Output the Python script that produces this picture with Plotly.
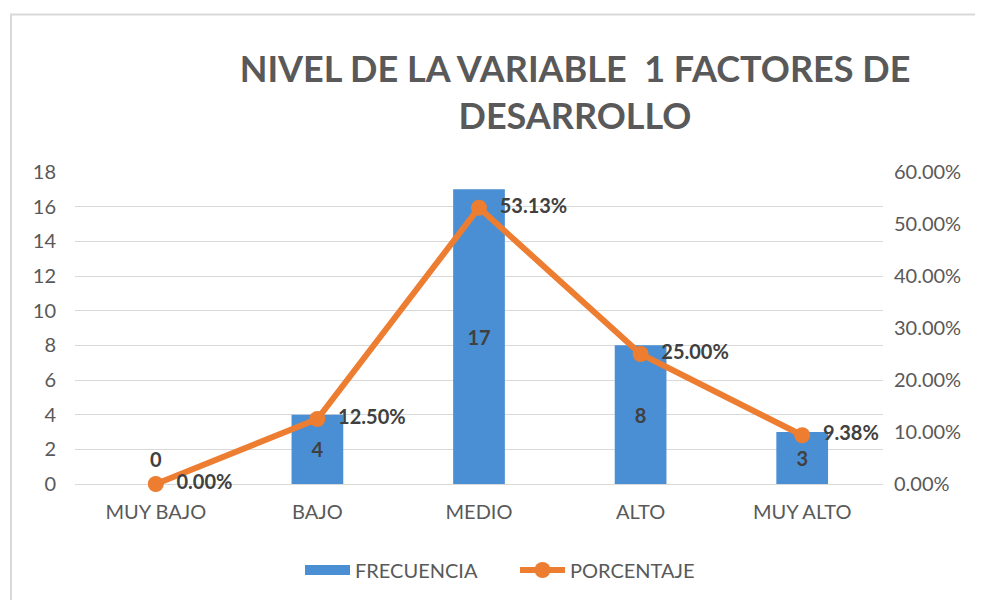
import plotly.graph_objects as go

categories = ["MUY BAJO", "BAJO", "MEDIO", "ALTO", "MUY ALTO"]
frecuencia = [0, 4, 17, 8, 3]
porcentaje = [0.0, 0.125, 0.53125, 0.25, 0.09375]
pct_labels = ["0.00%", "12.50%", "53.13%", "25.00%", "9.38%"]
left_ticks = list(range(0, 19, 2))
right_ticks = [0.0, 0.1, 0.2, 0.3, 0.4, 0.5, 0.6]

FONT = "Lato"
GRAY = "#595959"
DARK = "#404040"
BLUE = "#4A8FD4"
ORANGE = "#ED7D31"

# page body has an 8px margin; compensate so the figure sits at the window origin
OFF = 8
W, H = 983 - OFF, 600 - OFF
l, r, t, b = 75 - OFF, 100, 172 - OFF, 115
pw, ph = W - l - r, H - t - b


def px2paper_x(px):
    return (px - OFF - l) / pw


def px2paper_y(py):
    return (H - b - (py - OFF)) / ph


fig = go.Figure()
fig.add_trace(go.Bar(
    x=categories, y=frecuencia, name="FRECUENCIA",
    marker=dict(color=BLUE, line=dict(width=0)),
    width=0.32,
    text=["" if v == 0 else str(v) for v in frecuencia],
    textposition="inside",
    insidetextanchor="middle",
    textfont=dict(family=FONT, size=20, color=DARK, weight="bold"),
    showlegend=False,
    yaxis="y",
))
# legend entry for the bars (wide swatch like the reference)
fig.add_trace(go.Scatter(
    x=[None], y=[None], name="FRECUENCIA", mode="lines",
    line=dict(color=BLUE, width=11),
))
fig.add_trace(go.Scatter(
    x=categories, y=porcentaje, name="PORCENTAJE",
    mode="lines+markers+text",
    line=dict(color=ORANGE, width=6),
    marker=dict(color=ORANGE, size=16),
    text=["\u00a0\u00a0" + s for s in pct_labels], textposition="middle right",
    textfont=dict(family=FONT, size=20, color=DARK, weight="bold"),
    cliponaxis=False,
    yaxis="y2",
))

annotations = []
for c, v in zip(categories, frecuencia):
    if v == 0:
        annotations.append(dict(
            x=c, y=v, xref="x", yref="y", text=str(v), showarrow=False,
            yshift=25, font=dict(family=FONT, size=20, color=DARK, weight="bold"),
        ))

fig.update_layout(
    width=W, height=H,
    margin=dict(l=l, r=r, t=t, b=b),
    paper_bgcolor="white", plot_bgcolor="white",
    font=dict(family=FONT, size=20, color=GRAY),
    title=dict(
        text="NIVEL DE LA VARIABLE  1 FACTORES DE<br>DESARROLLO",
        x=(575 - OFF) / W, xanchor="center", xref="container",
        y=1 - 74 / H, yanchor="top", yref="container",
        font=dict(family=FONT, size=36, color=GRAY, weight="bold"),
    ),
    showlegend=True,
    legend=dict(
        orientation="h", x=px2paper_x(515), xanchor="center",
        y=px2paper_y(570), yanchor="middle",
        font=dict(family=FONT, size=20, color=GRAY),
        traceorder="normal",
        itemwidth=45, entrywidth=155, entrywidthmode="pixels",
    ),
    xaxis=dict(
        showgrid=False, showline=False, ticks="",
        ticklabelstandoff=14,
        tickfont=dict(family=FONT, size=20, color=GRAY),
    ),
    yaxis=dict(
        range=[0, 18], tickvals=left_ticks,
        showgrid=True, gridcolor="#D9D9D9", gridwidth=1,
        zeroline=True, zerolinecolor="#D9D9D9", zerolinewidth=1,
        showline=False, ticks="", ticklabelstandoff=18,
        tickfont=dict(family=FONT, size=20, color=GRAY),
    ),
    yaxis2=dict(
        range=[0, 0.6], tickvals=right_ticks, tickformat=".2%",
        overlaying="y", side="right",
        showgrid=False, zeroline=False, showline=False, ticks="",
        ticklabelstandoff=10,
        tickfont=dict(family=FONT, size=20, color=GRAY),
    ),
    annotations=annotations,
    shapes=[dict(
        type="rect", xref="paper", yref="paper", layer="below",
        x0=px2paper_x(11), x1=px2paper_x(1000),
        y0=px2paper_y(620), y1=px2paper_y(14),
        line=dict(color="#D9D9D9", width=2), fillcolor="rgba(0,0,0,0)",
    )],
)

fig.write_html("out.html")
